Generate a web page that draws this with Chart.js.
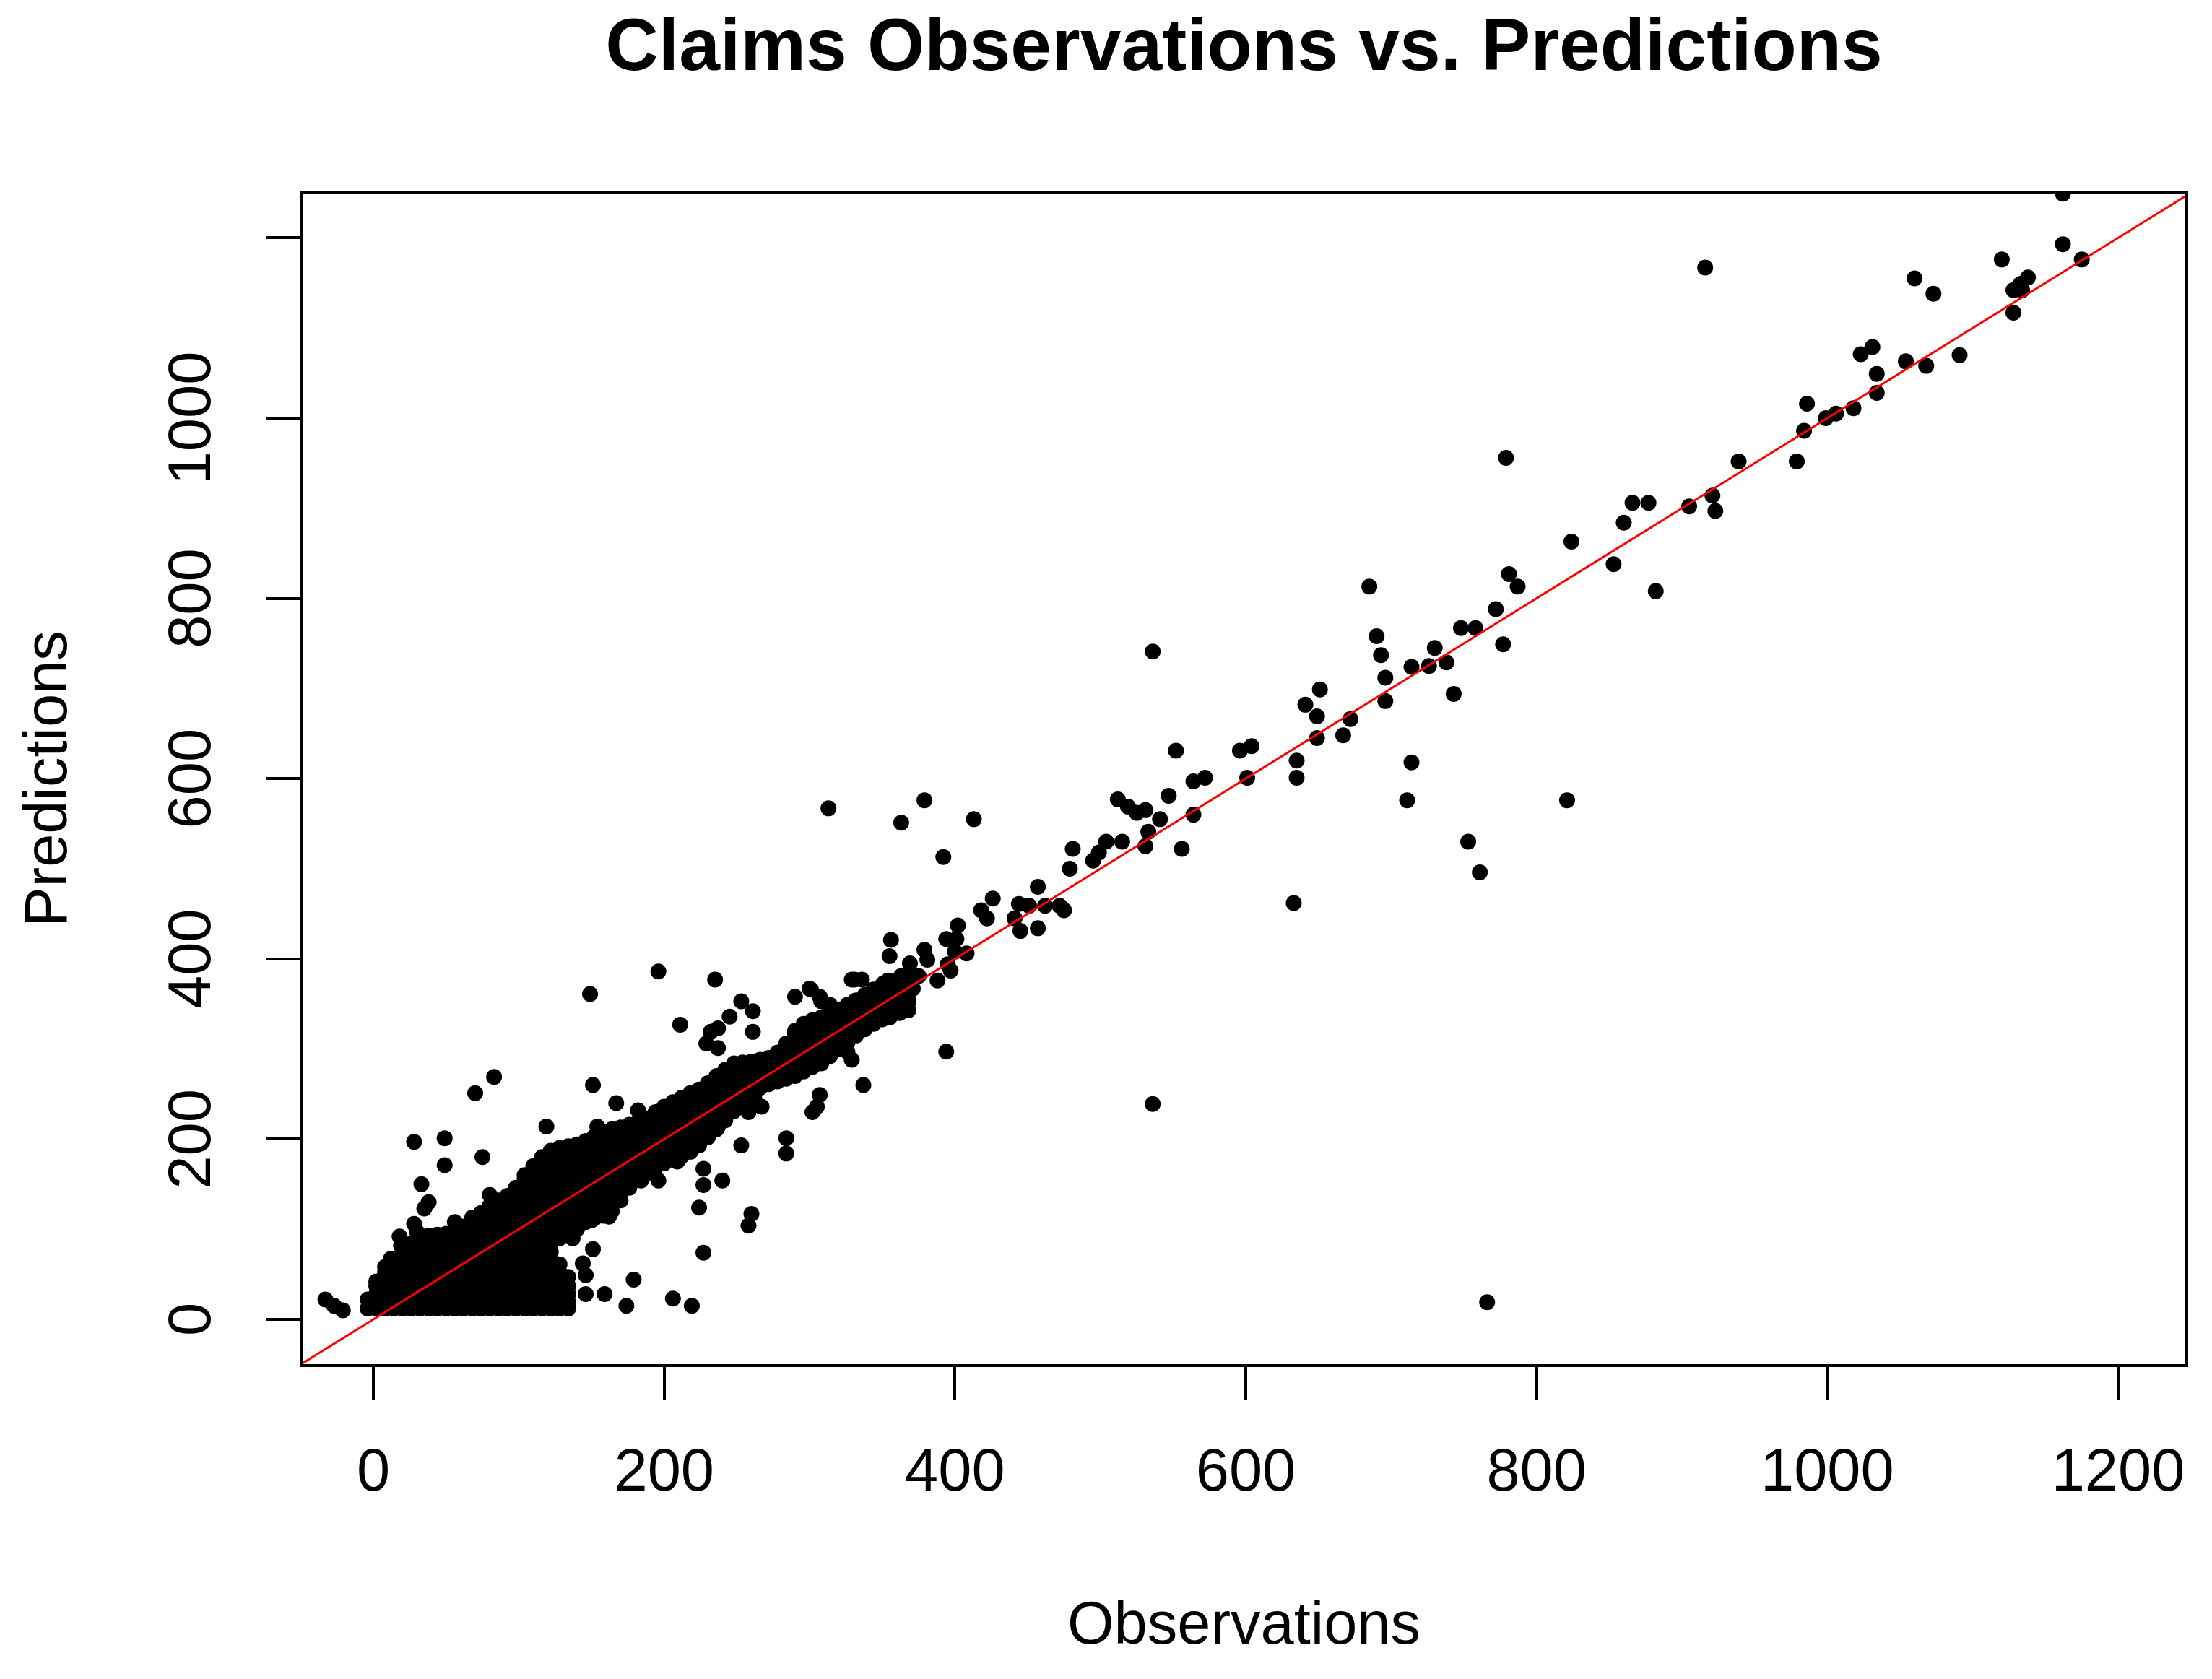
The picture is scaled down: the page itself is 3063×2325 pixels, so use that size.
<!DOCTYPE html>
<html>
<head>
<meta charset="utf-8">
<title>Claims Observations vs. Predictions</title>
<script src="https://cdn.jsdelivr.net/npm/chart.js@4.4.1/dist/chart.umd.min.js"></script>
<style>
  html, body { margin: 0; padding: 0; background: #fff; }
  #chart { display: block; }
</style>
</head>
<body>
<canvas id="chart" width="3063" height="2325" style="width:3063px;height:2325px"></canvas>
<script>
// axis setup
const xTicks = [0, 200, 400, 600, 800, 1000, 1200];
const yTicks = [0, 200, 400, 600, 800, 1000, 1200];
const yTickLabels = ['0', '200', '400', '600', '800', '1000', ''];
const xRange = [-49.7, 1247.2];
const yRange = [-51.3, 1250.8];

// reference line y = x
const refLine = [[-60, -60], [1260, 1260]];

// the dense core of the cloud: [observation, [predictions...]]
const coreColumns = [
  [-4, [12, 22]],
  [2, [12, 19, 28, 37, 42]],
  [8, [12, 23, 33, 42, 52, 58]],
  [14, [12, 19, 28, 37, 47, 56, 65]],
  [20, [12, 23, 33, 42, 52, 61, 71, 75]],
  [26, [12, 19, 28, 37, 47, 56, 66, 75, 84]],
  [32, [12, 23, 33, 42, 52, 61, 71, 80, 90]],
  [38, [12, 19, 28, 37, 47, 56, 66, 75, 85, 93]],
  [44, [12, 23, 33, 42, 52, 61, 71, 80, 90, 94]],
  [50, [12, 19, 28, 37, 47, 56, 66, 75, 85, 95]],
  [56, [12, 23, 33, 42, 52, 61, 71, 80, 90, 97]],
  [62, [12, 19, 28, 37, 47, 56, 66, 75, 85, 94, 103]],
  [68, [12, 23, 33, 42, 52, 61, 71, 80, 90, 99, 109, 113]],
  [74, [12, 19, 28, 37, 47, 56, 66, 75, 85, 94, 104, 113, 118]],
  [80, [12, 23, 33, 42, 52, 61, 71, 80, 90, 99, 109, 118, 126]],
  [86, [12, 19, 28, 37, 47, 56, 66, 75, 85, 94, 104, 113, 123, 132]],
  [92, [12, 23, 33, 42, 52, 61, 71, 80, 90, 99, 109, 118, 128, 137]],
  [98, [12, 19, 28, 37, 47, 56, 66, 75, 85, 94, 104, 113, 123, 132, 142, 146]],
  [104, [12, 23, 33, 42, 52, 61, 71, 80, 90, 99, 109, 118, 128, 137, 147, 156, 160]],
  [110, [12, 19, 28, 37, 47, 56, 66, 75, 85, 94, 104, 113, 123, 132, 142, 151, 161, 170]],
  [116, [12, 23, 33, 42, 52, 61, 71, 80, 90, 99, 109, 118, 128, 137, 147, 156, 166, 175, 180]],
  [122, [12, 19, 28, 37, 47, 56, 66, 75, 85, 94, 104, 113, 123, 132, 142, 151, 161, 170, 180, 187]],
  [128, [12, 23, 33, 42, 52, 61, 90, 99, 109, 118, 128, 137, 147, 156, 166, 175, 185, 190]],
  [134, [12, 19, 28, 37, 47, 94, 104, 113, 123, 132, 142, 151, 161, 170, 180, 189, 192]],
  [140, [100, 109, 118, 128, 137, 147, 156, 166, 175, 185, 194]],
  [146, [108, 117, 127, 136, 146, 155, 165, 174, 184, 193, 198]],
  [152, [112, 121, 131, 140, 150, 159, 169, 178, 188, 197, 203]],
  [158, [115, 124, 134, 143, 153, 162, 172, 181, 191, 200, 208]],
  [164, [120, 129, 139, 148, 158, 167, 177, 186, 196, 205, 211]],
  [170, [132, 141, 151, 160, 170, 179, 189, 198, 208, 213]],
  [176, [146, 155, 165, 174, 184, 193, 203, 212, 216]],
  [182, [155, 164, 174, 183, 193, 202, 212, 219]],
  [188, [162, 171, 181, 190, 200, 209, 219, 223]],
  [194, [168, 177, 187, 196, 206, 215, 225, 230]],
  [200, [173, 182, 192, 201, 211, 220, 230, 236]],
  [206, [177, 186, 196, 205, 215, 224, 234, 241]],
  [212, [181, 190, 200, 209, 219, 228, 238, 246]],
  [218, [186, 195, 205, 214, 224, 233, 243, 251]],
  [224, [193, 202, 212, 221, 231, 240, 250, 255]],
  [230, [202, 211, 221, 230, 240, 249, 259, 262]],
  [236, [211, 220, 230, 239, 249, 258, 268, 270]],
  [242, [221, 230, 240, 249, 259, 268, 277]],
  [248, [231, 240, 250, 259, 269, 278, 284]],
  [254, [242, 251, 261, 270, 280, 285]],
  [260, [252, 261, 271, 280, 286]],
  [266, [257, 266, 276, 285, 288]],
  [272, [261, 270, 280, 290]],
  [278, [264, 273, 283, 292, 296]],
  [284, [267, 276, 286, 295, 306]],
  [290, [270, 279, 289, 298, 308, 317, 320]],
  [296, [275, 284, 294, 303, 313, 322, 328]],
  [302, [280, 289, 299, 308, 318, 327, 332]],
  [308, [284, 293, 303, 312, 322, 331, 335]],
  [314, [292, 301, 311, 320, 330, 339]],
  [320, [300, 309, 319, 328, 338, 344]],
  [326, [307, 316, 326, 335, 345, 349]],
  [332, [315, 324, 334, 343, 353, 354]],
  [338, [322, 331, 341, 350, 360]],
  [344, [328, 337, 347, 356, 366]],
  [350, [333, 342, 352, 361, 371]],
  [356, [337, 346, 356, 365, 374]],
  [362, [340, 349, 359, 368, 377]],
  [368, [343, 352, 362, 371, 379]],
];

// scattered points around the core, [observation, prediction]
const lowerOutliers = [
  [-33, 22], [-27, 15], [-21, 10],
  [12, 67], [18, 92], [19, 82], [28, 106], [30, 97], [35, 123], [38, 130], [33, 150], [49, 171],
  [49, 201], [28, 197], [75, 180], [56, 108], [80, 138], [70, 251], [83, 269],
  [119, 214], [154, 214], [151, 260], [149, 361], [196, 386], [235, 377], [167, 240], [182, 232],
  [168, 134], [162, 114], [150, 110], [153, 130], [151, 78], [144, 62], [146, 49], [146, 28],
  [159, 28], [174, 15], [179, 44], [206, 23], [219, 15], [131, 97], [137, 90],
  [227, 74], [224, 124], [227, 167], [227, 149], [240, 154], [184, 154], [196, 154], [209, 175],
  [219, 188], [253, 193], [284, 201], [284, 184],
  [237, 214], [240, 225], [262, 245], [267, 236], [258, 230], [307, 249], [305, 236], [302, 230],
  [337, 260], [260, 117], [258, 104], [329, 288], [326, 297],
  [211, 327], [245, 336], [253, 353], [261, 342], [261, 319], [232, 319], [237, 323], [229, 306], [237, 301],
  [290, 358], [301, 366], [307, 358], [314, 349], [300, 367], [308, 353], [314, 344], [331, 353], [337, 344],
  [329, 377], [336, 377], [331, 377], [348, 364], [351, 373], [356, 375], [364, 379], [354, 376],
  [363, 381], [371, 367], [368, 353], [365, 344], [355, 335],
  [356, 421], [355, 403], [369, 395], [375, 381], [379, 410], [381, 399], [379, 576], [363, 551], [313, 567],
];

const middleOutliers = [
  [388, 376], [395, 394], [397, 387], [394, 422], [401, 422], [400, 408], [408, 406], [402, 437],
  [418, 454], [422, 445], [426, 467], [441, 445], [445, 431], [444, 461], [451, 459], [457, 434],
  [457, 480], [462, 459], [472, 459], [475, 454],
  [413, 555], [392, 513], [394, 297],
  [479, 500], [481, 522], [495, 509], [499, 518], [504, 530], [515, 530], [512, 577], [519, 569],
  [525, 562], [531, 565], [541, 555], [533, 541], [531, 525], [556, 522], [547, 581], [564, 560],
  [564, 597], [572, 601], [536, 741], [536, 239],
  [552, 631], [596, 631], [604, 636], [601, 601], [635, 620], [635, 601], [633, 462], [641, 682],
  [651, 699], [649, 669], [649, 645], [667, 648], [672, 666], [685, 813], [690, 758], [693, 737],
  [696, 712], [696, 686],
];

const upperOutliers = [
  [714, 724], [726, 725], [738, 729], [730, 745], [743, 694], [714, 618], [711, 576], [753, 530],
  [761, 496], [766, 19],
  [748, 767], [758, 767], [777, 749], [772, 788], [781, 827], [787, 813], [779, 956], [821, 576],
  [824, 863], [853, 838], [860, 884], [866, 906], [877, 906], [882, 808], [905, 902], [921, 914],
  [923, 897], [916, 1167], [939, 952], [979, 952],
  [984, 986], [986, 1016], [999, 1000], [1006, 1005], [1018, 1011], [1034, 1028], [1023, 1071],
  [1031, 1079], [1034, 1049], [1054, 1063], [1068, 1058], [1091, 1070], [1060, 1155], [1073, 1138],
  [1128, 1117], [1128, 1142], [1134, 1142], [1133, 1149], [1138, 1156], [1120, 1176], [1162, 1193],
  [1175, 1176], [1162, 1249],
];

const FONT = "'Liberation Sans', Arial, sans-serif";
const toPoints = pairs => pairs.map(([x, y]) => ({ x, y }));
const corePoints = coreColumns.flatMap(([x, ys]) => ys.map(y => ({ x, y })));

const dotStyle = {
  pointRadius: 11,
  pointHoverRadius: 11,
  pointBackgroundColor: '#000',
  pointBorderWidth: 0,
  backgroundColor: '#000',
  borderWidth: 0,
  clip: 0,
  order: 1,
};

// R-style box round the plot region
const plotBox = {
  id: 'plotBox',
  afterDraw(chart) {
    const { ctx, chartArea: { left, top, right, bottom } } = chart;
    ctx.save();
    ctx.strokeStyle = '#000';
    ctx.lineWidth = 4;
    ctx.strokeRect(left, top, right - left, bottom - top);
    ctx.restore();
  },
};

const tickFont = { family: FONT, size: 83, lineHeight: 1.2 };
const axisGrid = { display: true, drawOnChartArea: false, drawTicks: true, tickLength: 48, lineWidth: 4, color: '#000' };

new Chart(document.getElementById('chart'), {
  type: 'scatter',
  data: {
    datasets: [
      {
        type: 'line',
        label: 'y = x',
        data: toPoints(refLine),
        borderColor: '#ff0000',
        borderWidth: 3,
        pointRadius: 0,
        fill: false,
        clip: 0,
        order: 0,
      },
      { label: 'core', data: corePoints, ...dotStyle },
      { label: 'lower', data: toPoints(lowerOutliers), ...dotStyle },
      { label: 'middle', data: toPoints(middleOutliers), ...dotStyle },
      { label: 'upper', data: toPoints(upperOutliers), ...dotStyle },
    ],
  },
  options: {
    responsive: false,
    animation: false,
    devicePixelRatio: 1,
    events: [],
    layout: { padding: { left: 0, right: 35, top: 0, bottom: 0 } },
    plugins: {
      legend: { display: false },
      tooltip: { enabled: false },
      title: {
        display: true,
        fullSize: false,
        text: 'Claims Observations vs. Predictions',
        color: '#000',
        font: { family: FONT, size: 102, weight: 'bold', lineHeight: 1.2 },
        padding: { top: 8, bottom: 135.6 },
      },
    },
    scales: {
      x: {
        type: 'linear',
        position: 'bottom',
        min: xRange[0],
        max: xRange[1],
        afterBuildTicks: s => { s.ticks = xTicks.map(v => ({ value: v })); },
        afterFit: s => { s.height = 434; s.paddingLeft = 0; s.paddingRight = 0; },
        grid: axisGrid,
        border: { display: false },
        ticks: {
          color: '#000',
          font: tickFont,
          padding: 52,
          autoSkip: false,
          minRotation: 0,
          maxRotation: 0,
          callback: v => String(v),
        },
        title: {
          display: true,
          text: 'Observations',
          color: '#000',
          font: tickFont,
          padding: { top: 0, bottom: 22 },
        },
      },
      y: {
        type: 'linear',
        position: 'left',
        min: yRange[0],
        max: yRange[1],
        afterBuildTicks: s => { s.ticks = yTicks.map(v => ({ value: v })); },
        afterFit: s => { s.width = 417; s.paddingTop = 0; s.paddingBottom = 0; },
        grid: axisGrid,
        border: { display: false },
        ticks: {
          color: '#000',
          font: tickFont,
          padding: 9,
          autoSkip: false,
          minRotation: 90,
          maxRotation: 90,
          crossAlign: 'center',
          callback: (v, i) => yTickLabels[i],
        },
        title: {
          display: true,
          text: 'Predictions',
          color: '#000',
          font: tickFont,
          padding: { top: 19, bottom: 0 },
        },
      },
    },
  },
  plugins: [plotBox],
});
</script>
</body>
</html>
